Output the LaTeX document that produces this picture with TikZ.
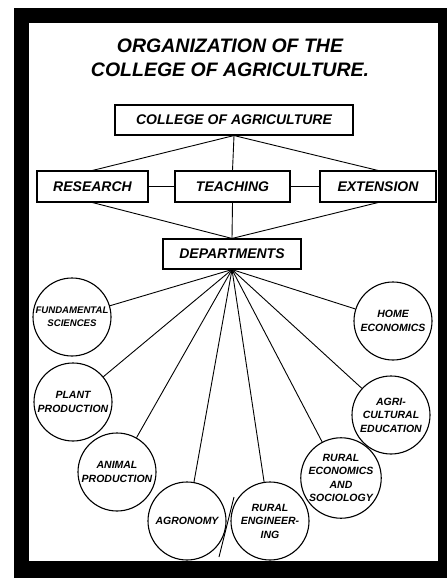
\documentclass[tikz,border=0pt]{standalone}
\usepackage{fontspec}
\setmainfont{Liberation Sans}
\begin{document}
\begin{tikzpicture}[x=1pt,y=-1pt,
  titletext/.style={font=\fontsize{19.5}{24}\selectfont\bfseries\itshape, align=center, inner sep=0},
  boxnode/.style={draw, line width=1.1pt, rectangle, inner sep=0, font=\fontsize{14}{16}\selectfont\bfseries\itshape},
  deptcircle/.style={draw, line width=1.1pt, circle, minimum size=78pt, inner sep=0, align=center, font=\fontsize{10.5}{13.5}\selectfont\bfseries\itshape},
  smalltext/.style={font=\fontsize{9.6}{13}\selectfont\bfseries\itshape},
  link/.style={line width=0.9pt}
]
\useasboundingbox (0,0) rectangle (447,588);
\fill[white] (0,0) rectangle (447,588);
\fill[black] (14,8) rectangle (447,578);
\fill[white] (29,23) rectangle (438,561);

\node[titletext] (title) at (230,58) {ORGANIZATION OF THE\\COLLEGE OF AGRICULTURE.};

\node[boxnode, minimum width=238pt, minimum height=30pt] (college) at (234,120) {COLLEGE OF AGRICULTURE};
\node[boxnode, minimum width=111pt, minimum height=31pt] (research) at (92.5,186.5) {RESEARCH};
\node[boxnode, minimum width=115pt, minimum height=31pt] (teaching) at (232.5,186.5) {TEACHING};
\node[boxnode, minimum width=116pt, minimum height=31pt] (extension) at (378,186.5) {EXTENSION};
\node[boxnode, minimum width=138pt, minimum height=30pt] (departments) at (232,254) {DEPARTMENTS};

\draw[link] (college.south) -- (teaching.north);
\draw[link] (college.south) -- (research.north);
\draw[link] (college.south) -- (extension.north);
\draw[link] (research.east) -- (teaching.west);
\draw[link] (teaching.east) -- (extension.west);
\draw[link] (research.south) -- (departments.north);
\draw[link] (teaching.south) -- (departments.north);
\draw[link] (extension.south) -- (departments.north);

\node[deptcircle, smalltext] (fund) at (72,317) {FUNDAMENTAL\\SCIENCES};
\node[deptcircle] (plant) at (73,402) {PLANT\\PRODUCTION};
\node[deptcircle] (animal) at (117,472) {ANIMAL\\PRODUCTION};
\node[deptcircle] (agron) at (187,521) {AGRONOMY};
\node[deptcircle] (ruraleng) at (270,521) {RURAL\\ENGINEER-\\ING};
\node[deptcircle] (ruralecon) at (341,478) {RURAL\\ECONOMICS\\AND\\SOCIOLOGY};
\node[deptcircle] (agried) at (391,415) {AGRI-\\CULTURAL\\EDUCATION};
\node[deptcircle] (home) at (393,321) {HOME\\ECONOMICS};

\foreach \c in {fund,plant,animal,agron,ruraleng,ruralecon,agried,home}
  \draw[link] (departments.south) -- (\c);

\coordinate (s1) at (234,497);
\coordinate (s2) at (219,557);
\draw[link] (s1) -- (s2);
\end{tikzpicture}
\end{document}
